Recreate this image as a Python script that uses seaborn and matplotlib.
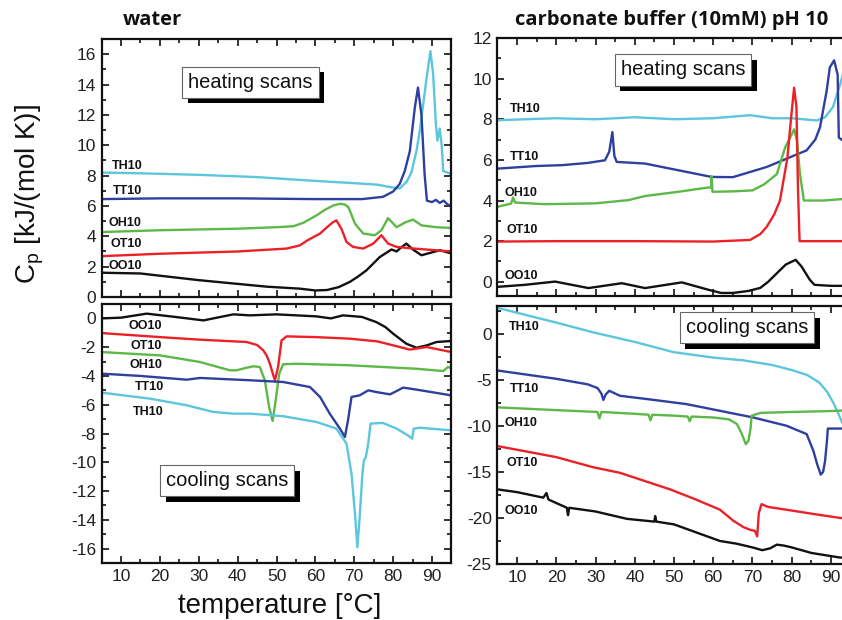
import matplotlib
matplotlib.use("Agg")
import matplotlib.pyplot as plt
import matplotlib.patheffects as pe
from matplotlib.ticker import MultipleLocator
import seaborn as sns
import pandas as pd

# ---------------- data ----------------
# water, heating scans
w_h_TH10_x = [5, 15, 30, 45, 60, 70, 76, 79, 81.7, 83.5, 84.7, 86.0, 86.9, 88.6, 89.6, 90.3, 91.0, 91.4, 92.0, 92.5, 92.9, 94, 95]
w_h_TH10_y = [8.2, 8.15, 8.05, 7.9, 7.65, 7.5, 7.4, 7.25, 7.15, 7.6, 8.2, 9.6, 11.0, 14.4, 16.2, 14.7, 11.4, 10.3, 11.1, 10.0, 8.3, 8.2, 8.1]
w_h_TT10_x = [5, 20, 40, 60, 72, 77.4, 80, 81.7, 83, 84.3, 85.6, 86.4, 87.3, 88.1, 88.7, 90, 91, 92, 93, 94, 95]
w_h_TT10_y = [6.45, 6.5, 6.5, 6.45, 6.45, 6.6, 6.95, 7.45, 8.3, 9.6, 12.5, 13.8, 12.0, 8.1, 6.35, 6.25, 6.4, 6.2, 6.35, 6.1, 6.0]
w_h_OH10_x = [5, 20, 40, 50, 54.3, 57, 60.3, 62.5, 64.6, 66.3, 67.5, 68.5, 70.2, 72.3, 75.3, 77, 78.7, 80.9, 83, 85.1, 87.3, 91, 95]
w_h_OH10_y = [4.28, 4.4, 4.5, 4.6, 4.66, 4.9, 5.38, 5.75, 6.03, 6.14, 6.1, 5.92, 4.83, 4.18, 4.07, 4.4, 5.2, 4.6, 4.9, 5.1, 4.72, 4.6, 4.55]
w_h_OT10_x = [5, 20, 40, 52.6, 56, 58, 61.2, 63, 64.6, 65.4, 66.7, 68, 69.7, 72.3, 74.9, 77, 78.7, 80.9, 85, 90, 95]
w_h_OT10_y = [2.69, 2.85, 3.0, 3.19, 3.4, 3.74, 4.18, 4.6, 4.94, 5.05, 4.5, 3.63, 3.3, 3.19, 3.52, 4.07, 3.52, 3.3, 3.2, 3.1, 3.0]
w_h_OO10_x = [5, 15, 30, 47.5, 56, 60, 63, 66, 68.9, 71, 73.2, 76.6, 79.6, 80.9, 82, 83.4, 85.1, 87.3, 89, 92, 95]
w_h_OO10_y = [1.6, 1.55, 1.11, 0.68, 0.55, 0.43, 0.46, 0.65, 1.0, 1.35, 1.77, 2.64, 3.13, 3.0, 3.25, 3.52, 3.13, 2.75, 2.87, 3.08, 2.87]

# water, cooling scans
w_c_OO10_x = [5, 10, 16.6, 24, 31.2, 38.9, 43.2, 50, 60.3, 64, 67.1, 72, 75.7, 78, 80, 83.4, 86, 88.6, 91.2, 95]
w_c_OO10_y = [0.0, 0.05, 0.33, 0.1, -0.14, 0.28, 0.21, 0.28, 0.14, 0.0, 0.21, 0.1, -0.26, -0.6, -1.06, -1.76, -2.04, -1.88, -1.64, -1.57]
w_c_OT10_x = [5, 20, 30.3, 42.3, 45, 46.6, 47.5, 48.3, 49.0, 49.6, 50.4, 51.3, 52.6, 60, 68.9, 76, 81.7, 84.3, 88.6, 95]
w_c_OT10_y = [-1.02, -1.3, -1.48, -1.64, -1.85, -2.22, -2.6, -3.15, -3.8, -4.3, -3.38, -1.53, -1.25, -1.3, -1.41, -1.6, -1.99, -2.17, -1.99, -2.34]
w_c_OH10_x = [5, 20, 30.3, 38, 39.7, 42, 44, 45.7, 47, 48.1, 49.0, 49.8, 50.7, 51.7, 55, 68.9, 86, 92.9, 94.1, 95]
w_c_OH10_y = [-2.34, -2.57, -3.03, -3.61, -3.61, -3.45, -3.33, -3.38, -4.3, -6.16, -7.13, -5.69, -3.84, -3.19, -3.15, -3.26, -3.5, -3.66, -3.38, -3.45]
w_c_TT10_x = [5, 15, 26.9, 30.3, 43.2, 51.7, 58.6, 61.2, 63.7, 66.3, 67.6, 68.4, 69.3, 71.4, 73.6, 75.7, 79.2, 80.4, 82.6, 86, 95]
w_c_TT10_y = [-3.84, -4.0, -4.26, -4.14, -4.3, -4.42, -4.77, -5.46, -6.62, -7.66, -8.24, -7.08, -5.46, -5.35, -5.0, -5.12, -5.28, -5.12, -4.81, -4.95, -5.35]
w_c_TH10_x = [5, 17.5, 26.9, 33.7, 38.9, 43.2, 51.7, 60.3, 65.4, 68, 69.3, 70.2, 70.8, 71.4, 72.1, 72.5, 73.0, 73.6, 74.2, 77.4, 80.9, 83.8, 84.9, 85.3, 86.9, 95]
w_c_TH10_y = [-5.16, -5.58, -6.04, -6.5, -6.62, -6.62, -6.8, -7.2, -7.66, -8.7, -10.8, -13.6, -15.9, -13.8, -10.8, -9.86, -9.63, -8.7, -7.31, -7.27, -7.66, -8.13, -8.36, -7.66, -7.6, -7.78]

# carbonate buffer, heating scans
b_h_TH10_x = [5, 12, 20, 30, 40, 50, 60, 69.4, 75, 80, 86.4, 88.5, 90.5, 92.3, 93.5, 95]
b_h_TH10_y = [7.95, 8.0, 8.05, 8.0, 8.1, 8.0, 8.05, 8.2, 8.05, 8.05, 7.94, 8.1, 8.6, 9.7, 10.5, 11.5]
b_h_TT10_x = [5, 15, 21.4, 28, 32.4, 33.5, 34.3, 34.8, 35.4, 42.6, 51.1, 59.6, 65, 73.6, 78.7, 83.8, 86, 87.2, 88.9, 89.7, 90.8, 91.7, 92.0, 93, 95]
b_h_TT10_y = [5.57, 5.7, 5.74, 5.85, 5.98, 6.4, 7.37, 6.2, 5.9, 5.82, 5.49, 5.16, 5.15, 5.65, 6.06, 6.47, 7.0, 7.6, 9.4, 10.55, 10.9, 10.2, 7.1, 6.95, 6.9]
b_h_OH10_x = [5, 8.5, 9.0, 9.5, 17.1, 29.9, 38.4, 42.6, 51.1, 58.7, 59.5, 59.6, 59.8, 65, 70, 73, 76.2, 78.3, 80.6, 81.3, 82.1, 83.1, 88, 95]
b_h_OH10_y = [3.69, 3.85, 4.15, 3.9, 3.82, 3.86, 4.02, 4.22, 4.43, 4.64, 4.64, 5.2, 4.43, 4.45, 4.5, 4.8, 5.3, 6.6, 7.5, 7.0, 5.3, 4.0, 4.0, 4.1]
b_h_OT10_x = [5, 20, 40, 60, 69.4, 72, 73.6, 75.5, 77.0, 78.9, 79.8, 80.6, 81.2, 81.6, 82.0, 88, 95]
b_h_OT10_y = [1.98, 2.0, 2.0, 1.98, 2.06, 2.35, 2.7, 3.3, 4.0, 6.1, 8.0, 9.55, 8.6, 4.5, 2.0, 2.0, 2.0]
b_h_OO10_x = [5, 12, 19.7, 28.2, 36.7, 42.6, 52, 58.7, 62, 65, 69, 72, 74, 76.2, 78.5, 81, 82.5, 84.6, 85.8, 90, 95]
b_h_OO10_y = [-0.25, -0.15, 0.01, -0.31, -0.07, -0.31, -0.03, -0.39, -0.55, -0.55, -0.45, -0.3, 0.0, 0.42, 0.85, 1.08, 0.75, 0.1, -0.15, -0.2, -0.2]

# carbonate buffer, cooling scans
b_c_TH10_x = [5, 20, 29.4, 40, 49.8, 60, 67.7, 75, 80, 84, 87, 89, 90.6, 91.8, 92.8, 94, 95]
b_c_TH10_y = [2.8, 1.2, 0.14, -0.9, -2.0, -2.6, -2.9, -3.4, -3.95, -4.5, -5.3, -6.3, -7.5, -8.6, -9.6, -10.3, -10.5]
b_c_TT10_x = [5, 20, 28, 30.5, 31.5, 32.0, 32.6, 33.5, 35, 36.2, 45, 53.2, 62, 70.2, 78.7, 83.8, 85.5, 86.5, 87.4, 88.0, 88.5, 89.0, 89.2, 92, 95]
b_c_TT10_y = [-4.0, -4.9, -5.5, -5.9, -6.5, -7.2, -6.6, -6.2, -6.5, -6.74, -7.2, -7.65, -8.4, -9.1, -10.0, -10.9, -12.7, -14.2, -15.3, -15.0, -13.8, -11.5, -10.3, -10.3, -10.3]
b_c_OH10_x = [5, 20, 30.5, 31.0, 31.5, 40, 43.5, 44.0, 44.5, 50, 53.5, 54.0, 54.5, 60, 64, 66, 67.2, 68.3, 69.0, 69.5, 69.8, 72, 80, 90, 95]
b_c_OH10_y = [-8.0, -8.3, -8.5, -9.2, -8.5, -8.7, -8.8, -9.4, -8.8, -8.9, -9.0, -9.5, -9.0, -9.1, -9.3, -9.8, -10.8, -12.0, -11.6, -10.3, -8.9, -8.6, -8.5, -8.4, -8.3]
b_c_OT10_x = [5, 20, 29.4, 36.2, 49, 55, 61.7, 65.1, 67.7, 69.5, 70.6, 71.2, 71.6, 72.3, 73.9, 80, 86, 92.3, 95]
b_c_OT10_y = [-12.2, -13.4, -14.5, -15.1, -16.9, -17.9, -19.1, -20.3, -21.0, -21.3, -21.4, -22.0, -19.5, -18.5, -18.8, -19.2, -19.6, -20.0, -20.1]
b_c_OO10_x = [5, 10, 16.7, 17.5, 18, 22.7, 23.0, 23.3, 30, 38, 45, 45.2, 45.5, 50, 61.7, 66, 70, 72.5, 74.5, 76.2, 78, 80, 85, 92.3, 95]
b_c_OO10_y = [-16.9, -17.2, -17.8, -17.3, -18.0, -18.9, -19.7, -18.9, -19.3, -20.1, -20.4, -19.8, -20.4, -20.7, -22.5, -22.8, -23.2, -23.5, -23.3, -22.9, -23.0, -23.2, -23.8, -24.3, -24.3]

# curve labels: (text, x, y)
w_h_labels = [("TH10", 7.7, 8.66), ("TT10", 7.9, 7.0), ("OH10", 6.7, 4.9), ("OT10", 7.2, 3.5), ("OO10", 6.7, 2.05)]
w_c_labels = [("OO10", 11.8, -0.55), ("OT10", 12.5, -1.92), ("OH10", 12.1, -3.22), ("TT10", 13.6, -4.77), ("TH10", 13.1, -6.5)]
b_h_labels = [("TH10", 8.2, 8.5), ("TT10", 8.2, 6.14), ("OH10", 6.9, 4.35), ("OT10", 7.4, 2.55), ("OO10", 6.7, 0.3)]
b_c_labels = [("TH10", 7.8, 0.7), ("TT10", 8.2, -6.0), ("OH10", 6.9, -9.75), ("OT10", 7.4, -14.05), ("OO10", 6.9, -19.3)]

colors = {"TH10": "#5cc6dd", "TT10": "#2e3f9f", "OH10": "#5cb847", "OT10": "#ec2128", "OO10": "#111111"}

# ---------------- style ----------------
sns.set_theme(style="ticks")
plt.rcParams["font.family"] = ["Liberation Sans", "DejaVu Sans"]
plt.rcParams["axes.unicode_minus"] = False

fig = plt.figure(figsize=(8.42, 6.2), dpi=100)
W, H = 842.0, 620.0

def add_ax(x0, x1, ytop, ybot):
    return fig.add_axes([x0 / W, 1 - ybot / H, (x1 - x0) / W, (ybot - ytop) / H])

ax_wh = add_ax(101.6, 451.4, 39, 297)
ax_wc = add_ax(101.6, 451.4, 304, 563)
ax_bh = add_ax(497.4, 850.6, 38, 296)
ax_bc = add_ax(497.4, 850.6, 306, 564)

def draw(ax, series):
    for name, xs, ys in series:
        df = pd.DataFrame({"T": xs, "Cp": ys})
        sns.lineplot(data=df, x="T", y="Cp", ax=ax, color=colors[name], lw=1.7,
                     estimator=None, sort=False, legend=False)

draw(ax_wh, [("OO10", w_h_OO10_x, w_h_OO10_y), ("OT10", w_h_OT10_x, w_h_OT10_y),
             ("OH10", w_h_OH10_x, w_h_OH10_y), ("TH10", w_h_TH10_x, w_h_TH10_y),
             ("TT10", w_h_TT10_x, w_h_TT10_y)])
draw(ax_wc, [("OO10", w_c_OO10_x, w_c_OO10_y), ("OT10", w_c_OT10_x, w_c_OT10_y),
             ("OH10", w_c_OH10_x, w_c_OH10_y), ("TT10", w_c_TT10_x, w_c_TT10_y),
             ("TH10", w_c_TH10_x, w_c_TH10_y)])
draw(ax_bh, [("OO10", b_h_OO10_x, b_h_OO10_y), ("TH10", b_h_TH10_x, b_h_TH10_y),
             ("TT10", b_h_TT10_x, b_h_TT10_y), ("OH10", b_h_OH10_x, b_h_OH10_y),
             ("OT10", b_h_OT10_x, b_h_OT10_y)])
draw(ax_bc, [("OO10", b_c_OO10_x, b_c_OO10_y), ("OT10", b_c_OT10_x, b_c_OT10_y),
             ("TH10", b_c_TH10_x, b_c_TH10_y), ("TT10", b_c_TT10_x, b_c_TT10_y),
             ("OH10", b_c_OH10_x, b_c_OH10_y)])

def style(ax, ylim, major, minor, show_x):
    ax.set_xlim(5, 95)
    ax.set_ylim(*ylim)
    ax.xaxis.set_major_locator(MultipleLocator(10))
    ax.xaxis.set_minor_locator(MultipleLocator(5))
    ax.yaxis.set_major_locator(MultipleLocator(major))
    ax.yaxis.set_minor_locator(MultipleLocator(minor))
    ax.tick_params(which="both", direction="in", top=True, right=True, width=1.2, colors="#111111")
    ax.tick_params(which="major", length=5)
    ax.tick_params(which="minor", length=3)
    ax.tick_params(axis="both", which="major", labelsize=12.5, labelcolor="#222222", pad=4)
    for s in ax.spines.values():
        s.set_linewidth(1.6)
        s.set_color("#111111")
    ax.set_xlabel("")
    ax.set_ylabel("")
    if not show_x:
        ax.set_xticklabels([])

style(ax_wh, (0, 17), 2, 1, False)
style(ax_wc, (-17, 1), 2, 1, True)
style(ax_bh, (-0.7, 12), 2, 1, False)
style(ax_bc, (-25, 3), 5, 2.5, True)

def curve_labels(ax, labels):
    for s, x, y in labels:
        ax.text(x, y, s, ha="left", va="center", fontsize=9, fontweight="bold", color="#111111")

curve_labels(ax_wh, w_h_labels)
curve_labels(ax_wc, w_c_labels)
curve_labels(ax_bh, b_h_labels)
curve_labels(ax_bc, b_c_labels)

def scan_box(ax, x, y, s):
    t = ax.text(x, y, s, transform=ax.transAxes, ha="center", va="center", fontsize=14.5,
                color="#111111", zorder=6,
                bbox=dict(boxstyle="square,pad=0.3", fc="white", ec="#666666", lw=0.8))
    t.get_bbox_patch().set_path_effects([
        pe.SimplePatchShadow(offset=(4, -4), shadow_rgbFace="black", alpha=1.0),
        pe.Normal()])

scan_box(ax_wh, 0.425, 0.833, "heating scans")
scan_box(ax_wc, 0.359, 0.317, "cooling scans")
scan_box(ax_bh, 0.525, 0.876, "heating scans")
scan_box(ax_bc, 0.706, 0.915, "cooling scans")

title_font = ["Open Sans", "DejaVu Sans"]
fig.text(152 / W, 1 - 20 / H, "water", ha="center", va="center", fontsize=14.5,
         fontweight="bold", family=title_font, color="#111111")
fig.text(672 / W, 1 - 20 / H, "carbonate buffer (10mM) pH 10", ha="center", va="center",
         fontsize=14.5, fontweight="bold", family=title_font, color="#111111")

fig.text(30 / W, 1 - 194 / H, r"C$_\mathregular{p}$ [kJ/(mol K)]", rotation=90,
         ha="center", va="center", fontsize=20, color="#111111")
fig.text(280 / W, 1 - 606 / H, "temperature [°C]", ha="center", va="center",
         fontsize=20, color="#111111")

fig.savefig("out.png", dpi=100)
